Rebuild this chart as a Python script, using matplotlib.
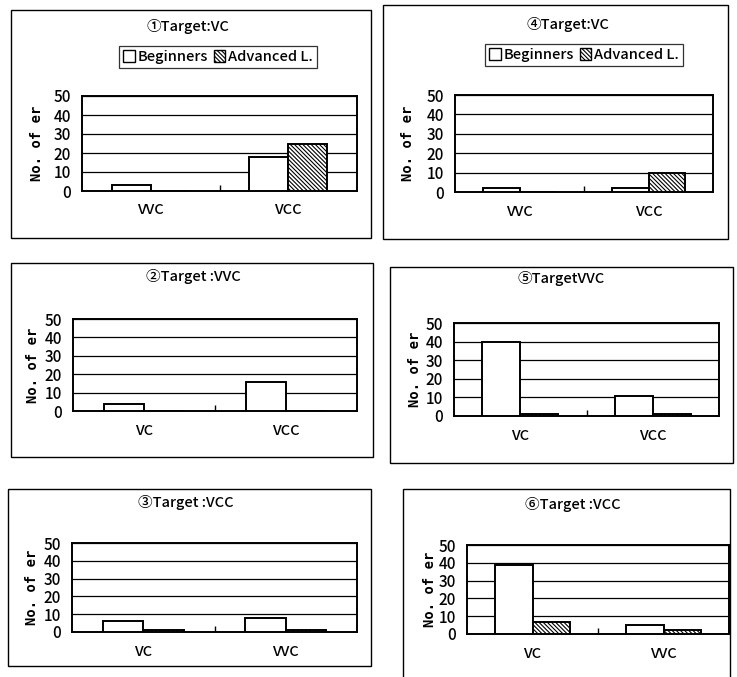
import matplotlib
matplotlib.use("Agg")
import matplotlib.pyplot as plt
from matplotlib.patches import Rectangle, Patch
import numpy as np

plt.rcParams['font.family'] = ['Noto Sans CJK JP', 'DejaVu Sans']
plt.rcParams['hatch.linewidth'] = 0.8

# ---- data ----
titles = ["①Target:VC", "②Target :VVC", "③Target :VCC",
          "④Target:VC", "⑤TargetVVC", "⑥Target :VCC"]
categories = [["VVC", "VCC"], ["VC", "VCC"], ["VC", "VVC"],
              ["VVC", "VCC"], ["VC", "VCC"], ["VC", "VVC"]]
beginners = [[3, 18], [4, 16], [6, 8],
             [2, 2], [40, 11], [39, 5]]
advanced = [[0, 25], [0, 0], [1, 1],
            [0, 10], [1, 1], [7, 2]]
series_names = ["Beginners", "Advanced L."]
yticks = [0, 10, 20, 30, 40, 50]
ylabel = "No. of er"
show_legend = [True, False, False, True, False, False]

# ---- layout (pixels) ----
W, H = 737, 677
fig = plt.figure(figsize=(W / 100, H / 100), dpi=100)
fig.patch.set_facecolor("white")

def fx(x):
    return x / W

def fy(y):
    return 1 - y / H

# panel boxes: left, top, right, bottom
boxes = [(11, 10, 371, 238), (11, 263, 373, 457), (8, 489, 371, 666),
         (383, 5, 728, 239), (390, 267, 733, 463), (403, 489, 730, 690)]
# plot areas: left, top, right, bottom
areas = [(82, 96, 357, 191), (73, 319, 357, 411), (72, 543, 357, 632),
         (455, 95, 713, 192), (454, 323, 719, 416), (467, 545, 729, 634)]
title_pos = [(188, 27), (193, 277), (186, 503),
             (568, 25), (561, 278), (573, 505)]
ylabel_x = [37, 33, 32, 408, 415, 430]
legend_pos = [(218, 57), None, None, (584, 55), None, None]

hatch = "\\\\\\\\\\\\\\\\"
bw = 0.285

for i in range(6):
    l, t, r, b = boxes[i]
    fig.patches.append(Rectangle((fx(l), fy(b)), fx(r) - fx(l), fy(t) - fy(b),
                                 transform=fig.transFigure, fill=False,
                                 edgecolor="black", linewidth=1.0))
    l, t, r, b = areas[i]
    ax = fig.add_axes([fx(l), fy(b), fx(r) - fx(l), fy(t) - fy(b)])
    x = np.arange(len(categories[i]))
    ax.bar(x - bw / 2, beginners[i], width=bw, facecolor="white",
           edgecolor="black", linewidth=1.4, zorder=3)
    ax.bar(x + bw / 2, advanced[i], width=bw, facecolor="white",
           edgecolor="black", hatch=hatch, linewidth=1.4, zorder=3)
    ax.set_xlim(-0.5, len(categories[i]) - 0.5)
    ax.set_ylim(0, 50)
    ax.set_yticks(yticks)
    ax.set_yticklabels([str(v) for v in yticks], fontsize=11, fontweight="medium")
    ax.set_xticks(x)
    ax.set_xticklabels(categories[i], fontsize=10.5, fontweight="medium")
    ax.set_xticks([0.5], minor=True)
    ax.tick_params(axis="x", which="major", length=0, pad=9)
    ax.tick_params(axis="x", which="minor", direction="in", length=4, width=1)
    ax.tick_params(axis="y", length=0, pad=8)
    ax.yaxis.grid(True, color="black", linewidth=0.9)
    ax.set_axisbelow(True)
    for s in ax.spines.values():
        s.set_linewidth(1.4)
        s.set_color("black")
    fig.text(fx(ylabel_x[i]), (fy(t) + fy(b)) / 2, ylabel, rotation=90,
             ha="center", va="center", fontsize=10, fontweight="bold",
             family=["DejaVu Sans Mono"])
    tx, ty = title_pos[i]
    fig.text(fx(tx), fy(ty), titles[i], ha="center", va="center",
             fontsize=10.5, fontweight="medium")
    if show_legend[i]:
        lx, ly = legend_pos[i]
        handles = [Patch(facecolor="white", edgecolor="black", linewidth=1.0),
                   Patch(facecolor="white", edgecolor="black", hatch=hatch,
                         linewidth=1.0)]
        leg = fig.legend(handles, series_names, loc="center",
                         bbox_to_anchor=(fx(lx), fy(ly)), ncol=2,
                         prop={"size": 10.5, "weight": "medium"},
                         frameon=True, fancybox=False,
                         edgecolor="black", handlelength=0.8,
                         handleheight=0.8, handletextpad=0.2,
                         columnspacing=0.4, borderpad=0.25,
                         borderaxespad=0)
        leg.get_frame().set_linewidth(0.9)

fig.savefig("out.png", dpi=100, facecolor="white")
